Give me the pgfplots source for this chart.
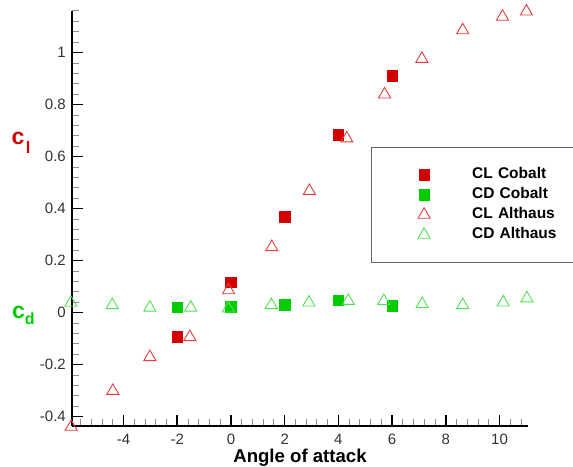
\documentclass[border=0pt]{standalone}
\usepackage{fontspec}
\setmainfont{Liberation Sans}
\usepackage{pgfplots}
\pgfplotsset{compat=1.18}
\definecolor{clred}{RGB}{210,0,0}
\definecolor{cdgreen}{RGB}{0,205,0}
\definecolor{trired}{RGB}{232,60,60}
\definecolor{trigreen}{RGB}{80,225,80}
\begin{document}
\begin{tikzpicture}
\useasboundingbox (-72pt,-40pt) rectangle (501pt,426pt);
\begin{axis}[
  at={(0pt,0pt)}, anchor=south west,
  scale only axis, width=456pt, height=415pt,
  xmin=-5.92, xmax=11.06, ymin=-0.436, ymax=1.16,
  clip=false,
  axis x line=bottom, axis y line=left,
  axis line style={-, line width=1.6pt, black},
  tick align=inside,
  xtick={-4,-2,0,2,4,6,8,10},
  ytick={-0.4,-0.2,0,0.2,0.4,0.6,0.8,1},
  minor xtick={-5.6,-5.2,-4.8,-4.4,-3.6,-3.2,-2.8,-2.4,-1.6,-1.2,-0.8,-0.4,0.4,0.8,1.2,1.6,2.4,2.8,3.2,3.6,4.4,4.8,5.2,5.6,6.4,6.8,7.2,7.6,8.4,8.8,9.2,9.6,10.4,10.8},
  minor ytick={-0.36,-0.32,-0.28,-0.24,-0.16,-0.12,-0.08,-0.04,0.04,0.08,0.12,0.16,0.24,0.28,0.32,0.36,0.44,0.48,0.52,0.56,0.64,0.68,0.72,0.76,0.84,0.88,0.92,0.96,1.04,1.08,1.12,1.16},
  major tick length=11pt, minor tick length=7pt,
  every major tick/.style={line width=1.6pt, black},
  every minor tick/.style={line width=1pt, black!45},
  /pgf/number format/assume math mode=true,
  /pgf/number format/fixed,
  tick label style={font=\fontsize{15}{15}\selectfont, text=black!80},
  xticklabel style={anchor=north, inner sep=0pt, yshift=-7.5pt},
  yticklabel style={anchor=east, inner sep=0pt, xshift=-6pt},
  xlabel={Angle of attack},
  xlabel style={at={(axis description cs:0.5,0)}, anchor=base, yshift=-36pt, inner sep=0pt,
    font=\fontsize{18.6}{18.6}\bfseries\selectfont},
  legend image code/.code={\draw[#1] plot coordinates {(0pt,0pt)};},
  legend style={at={(rel axis cs:0.6557,0.673)}, anchor=north west,
    draw=black!60, line width=1.1pt, fill=white,
    inner xsep=46.5pt, inner ysep=20.5pt, row sep=6pt, column sep=42pt,
    font=\fontsize{15.5}{15.5}\bfseries\selectfont,
    nodes={inner sep=0pt, text height=11pt, text depth=3pt, text width=130pt, line width=0.6pt},
    cells={anchor=west}},
]
\addplot[only marks, mark=square*, mark size=5.3pt, draw=clred, fill=clred, mark options={draw=clred, fill=clred, line width=0.5pt}]
  coordinates {(-2,-0.092) (0,0.117) (2,0.368) (4,0.685) (6,0.912)};
\addlegendentry{CL Cobalt}
\addplot[only marks, mark=square*, mark size=5.3pt, draw=cdgreen, fill=cdgreen, mark options={draw=cdgreen, fill=cdgreen, line width=0.5pt}]
  coordinates {(-2,0.020) (0,0.023) (2,0.030) (4,0.048) (6,0.027)};
\addlegendentry{CD Cobalt}
\addplot[only marks, mark=triangle, mark size=7pt, draw=trired, mark options={draw=trired, line width=0.9pt}]
  coordinates {(-5.95,-0.439) (-4.40,-0.301) (-3.02,-0.171) (-1.53,-0.094) (-0.09,0.086) (1.52,0.252) (2.92,0.468) (4.31,0.670) (5.72,0.839) (7.11,0.976) (8.63,1.086) (10.11,1.138) (11.0,1.158)};
\addlegendentry{CL Althaus}
\addplot[only marks, mark=triangle, mark size=7pt, draw=trigreen, mark options={draw=trigreen, line width=0.9pt}]
  coordinates {(-5.96,0.038) (-4.42,0.029) (-3.02,0.019) (-1.50,0.019) (-0.10,0.016) (1.50,0.029) (2.90,0.039) (4.37,0.045) (5.69,0.045) (7.12,0.033) (8.63,0.029) (10.14,0.039) (11.02,0.055)};
\addlegendentry{CD Althaus}
\end{axis}
\node[anchor=base west, inner sep=0pt, text=clred, font=\fontsize{23}{23}\bfseries\selectfont] at (-60.5pt,281pt) {c\kern1.5pt\raisebox{-8.3pt}{\fontsize{16.5}{16.5}\selectfont l}};
\node[anchor=base west, inner sep=0pt, text=cdgreen, font=\fontsize{23}{23}\bfseries\selectfont] at (-60pt,107.7pt) {c\raisebox{-6.7pt}{\fontsize{16}{16}\selectfont d}};
\end{tikzpicture}
\end{document}
